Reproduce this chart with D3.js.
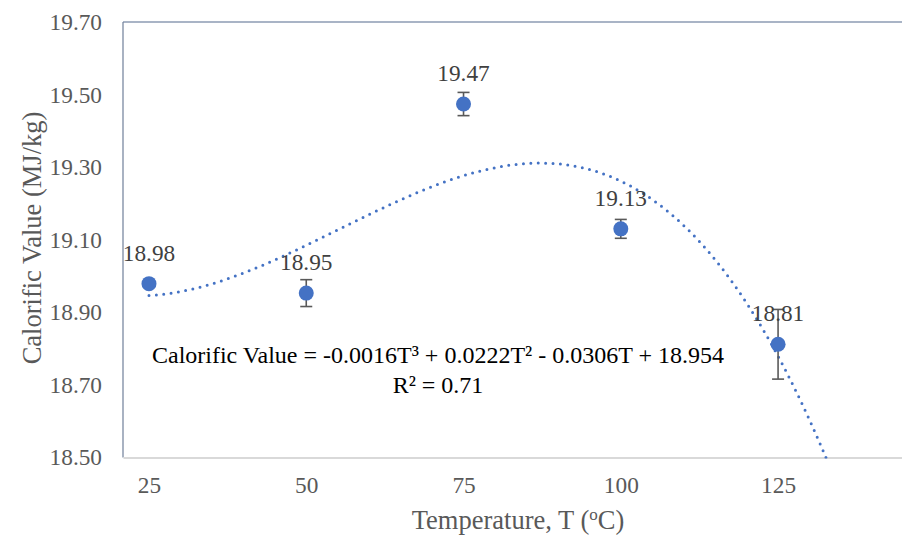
<!DOCTYPE html>
<html><head><meta charset="utf-8">
<script src="https://cdn.jsdelivr.net/npm/d3@7"></script>
<style>html,body{margin:0;padding:0;background:#fff}svg{display:block}</style>
</head><body>
<svg id="c" width="902" height="539"></svg>
<script>
const temperatures = [25, 50, 75, 100, 125];
const calorificValues = [18.979, 18.953, 19.474, 19.130, 18.812];
const errorValues = [0.008, 0.037, 0.032, 0.026, 0.096];
const yTicks = [18.5, 18.7, 18.9, 19.1, 19.3, 19.5, 19.7];
const xTicks = [25, 50, 75, 100, 125];
const equationText = "Calorific Value = -0.0016T³ + 0.0222T² - 0.0306T + 18.954";
const r2Text = "R² = 0.71";

(function () {
const svg = d3.select("#c");
const pL = 123, pR = 902, pT = 22, pB = 457.5;
const x = d3.scaleLinear().domain([20.87, 144.7]).range([pL, pR]);
const y = d3.scaleLinear().domain([18.5, 19.7]).range([pB, pT]);
const font = "'Liberation Serif','Times New Roman',serif";

// frame lines
svg.append("line").attr("x1", pL).attr("x2", pR).attr("y1", pT).attr("y2", pT)
  .attr("stroke", "#8c9bb3").attr("stroke-width", 1.5);
svg.append("line").attr("x1", pL).attr("x2", pL).attr("y1", pT).attr("y2", pB)
  .attr("stroke", "#6f7f99").attr("stroke-width", 1.2);

// axes
const yAxis = svg.append("g").attr("transform", `translate(${pL},0)`)
  .call(d3.axisLeft(y).tickValues(yTicks).tickFormat(d3.format(".2f")).tickSize(0).tickPadding(21));
yAxis.select(".domain").remove();
yAxis.selectAll("text").attr("font-family", font).attr("font-size", 23.3).attr("fill", "#595959");

const xAxis = svg.append("g").attr("transform", `translate(0,${pB})`)
  .call(d3.axisBottom(x).tickValues(xTicks).tickFormat(d3.format("d")).tickSize(0).tickPadding(19));
xAxis.select(".domain").attr("stroke", "#d9d9d9").attr("stroke-width", 2);
xAxis.selectAll("text").attr("font-family", font).attr("font-size", 23.3).attr("fill", "#595959");

// cubic least squares trendline computed from data
function polyfit(xs, ys, deg) {
  const n = deg + 1;
  const A = Array.from({length: n}, () => new Array(n + 1).fill(0));
  xs.forEach((xv, k) => {
    for (let i = 0; i < n; i++) {
      for (let j = 0; j < n; j++) A[i][j] += Math.pow(xv, i + j);
      A[i][n] += ys[k] * Math.pow(xv, i);
    }
  });
  for (let i = 0; i < n; i++) {
    let p = i;
    for (let r = i + 1; r < n; r++) if (Math.abs(A[r][i]) > Math.abs(A[p][i])) p = r;
    [A[i], A[p]] = [A[p], A[i]];
    for (let r = 0; r < n; r++) if (r !== i) {
      const f = A[r][i] / A[i][i];
      for (let c = i; c <= n; c++) A[r][c] -= f * A[i][c];
    }
  }
  return A.map((row, i) => row[n] / row[i]);
}
const xc = temperatures.map(t => (t - 75) / 25);
const coef = polyfit(xc, calorificValues, 3);
const fitAt = t => { const u = (t - 75) / 25; return coef[0] + coef[1]*u + coef[2]*u*u + coef[3]*u*u*u; };
const trendPts = d3.range(25, 140.01, 0.25).map(t => [t, fitAt(t)]);

svg.append("clipPath").attr("id", "clip").append("rect")
  .attr("x", pL).attr("y", pT).attr("width", pR - pL).attr("height", pB - pT + 1);
svg.append("path").datum(trendPts).attr("clip-path", "url(#clip)")
  .attr("d", d3.line().x(d => x(d[0])).y(d => y(d[1])))
  .attr("fill", "none").attr("stroke", "#4472C4").attr("stroke-width", 3)
  .attr("stroke-linecap", "round").attr("stroke-dasharray", "0 7.4");

// error bars
const eb = svg.append("g").attr("stroke", "#595959").attr("stroke-width", 1.6);
temperatures.forEach((t, i) => {
  const v = calorificValues[i], e = errorValues[i];
  eb.append("line").attr("x1", x(t)).attr("x2", x(t)).attr("y1", y(v - e)).attr("y2", y(v + e));
  [v - e, v + e].forEach(w => eb.append("line").attr("x1", x(t) - 6).attr("x2", x(t) + 6).attr("y1", y(w)).attr("y2", y(w)));
});

// markers
svg.append("g").selectAll("circle").data(temperatures).join("circle")
  .attr("cx", d => x(d)).attr("cy", (d, i) => y(calorificValues[i])).attr("r", 7.5)
  .attr("fill", "#4472C4");

// data labels
svg.append("g").selectAll("text").data(temperatures).join("text")
  .attr("x", d => x(d)).attr("y", (d, i) => y(calorificValues[i]) - 23)
  .attr("text-anchor", "middle").attr("font-family", font).attr("font-size", 23.3)
  .attr("fill", "#404040").text((d, i) => calorificValues[i].toFixed(2));

// equation
svg.append("text").attr("x", 438).attr("y", 363).attr("text-anchor", "middle")
  .attr("font-family", font).attr("font-size", 24).attr("fill", "#000").text(equationText);
svg.append("text").attr("x", 438).attr("y", 393).attr("text-anchor", "middle")
  .attr("font-family", font).attr("font-size", 24).attr("fill", "#000").text(r2Text);

// axis titles
svg.append("text").attr("transform", "translate(41,238) rotate(-90)").attr("text-anchor", "middle")
  .attr("font-family", font).attr("font-size", 26.5).attr("fill", "#595959").text("Calorific Value (MJ/kg)");
const xt = svg.append("text").attr("x", 518).attr("y", 529).attr("text-anchor", "middle")
  .attr("font-family", font).attr("font-size", 26.5).attr("fill", "#595959");
xt.append("tspan").text("Temperature, T (");
xt.append("tspan").attr("font-size", 17).attr("dy", -9).text("o");
xt.append("tspan").attr("dy", 9).text("C)");
})();
</script>
</body></html>
